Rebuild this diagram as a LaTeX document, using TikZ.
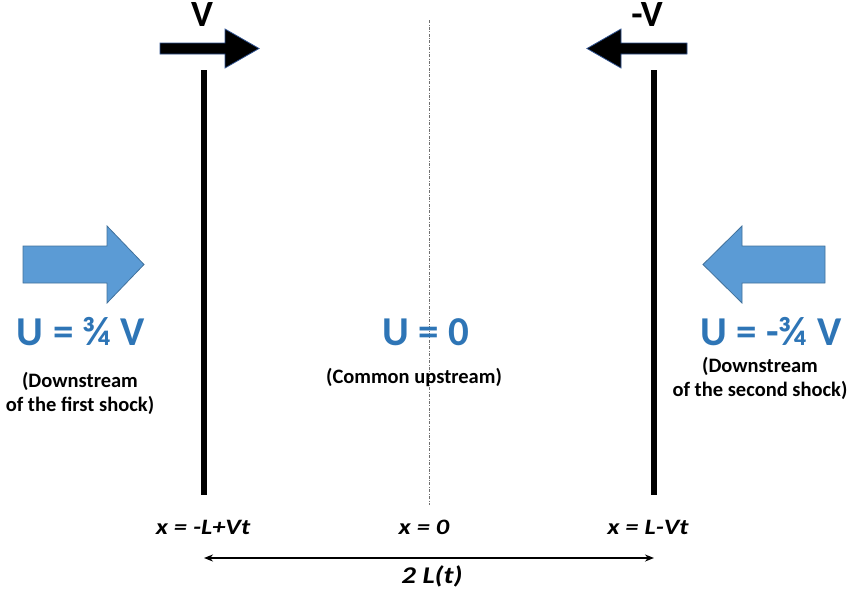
\documentclass[tikz,border=0pt]{standalone}
\usepackage{fontspec}
\setmainfont{Carlito}
\newfontfamily\poslabfont[FakeStretch=1.2]{Carlito}
\usepackage{tikz}
\usetikzlibrary{arrows.meta,positioning}
\definecolor{shkink}{HTML}{000000}
\definecolor{shkedge}{HTML}{2F528F}
\definecolor{flowfill}{HTML}{5B9BD5}
\definecolor{flowedge}{HTML}{41719C}
\definecolor{flowtxt}{HTML}{2E75B6}
\definecolor{midgray}{HTML}{707070}
\tikzset{
  shock/.style={line width=6pt,draw=shkink},
  midline/.style={draw=midgray,line width=0.8pt,dash pattern=on 3pt off 1.5pt on 0.8pt off 1.5pt},
  velarr/.style={fill=shkink,draw=shkedge,line width=0.8pt},
  flowarr/.style={fill=flowfill,draw=flowedge,line width=0.8pt},
  vlab/.style={font=\fontsize{37}{42}\selectfont\bfseries,text=shkink,anchor=base,inner sep=0pt},
  ulab/.style={font=\fontsize{41}{46}\selectfont\bfseries,text=flowtxt,anchor=base,inner sep=0pt},
  note/.style={font=\fontsize{20.5}{24}\selectfont\bfseries,align=center,text=shkink},
  xlab/.style={font=\poslabfont\fontsize{22}{26}\selectfont\bfseries\itshape,text=shkink,
               anchor=base,inner sep=0pt},
  dimarr/.style={{Stealth[length=9pt,width=7pt]}-{Stealth[length=9pt,width=7pt]},line width=1.6pt,draw=shkink},
}

\begin{document}
\begin{tikzpicture}[x=1pt,y=-1pt]
  \useasboundingbox (0,0) rectangle (852,597);

  % ---------- shock fronts and symmetry axis ----------
  \coordinate (s1top) at (204,70);
  \coordinate (s1bot) at (204,495);
  \coordinate (s2top) at (654,70);
  \coordinate (s2bot) at (654,495);
  \coordinate (axtop) at (429,20);
  \coordinate (axbot) at (429,505);
  \draw[midline] (axtop) -- (axbot);
  \draw[shock] (s1top) -- (s1bot);
  \draw[shock] (s2top) -- (s2bot);

  % ---------- shock velocities ----------
  \draw[velarr] (160,43) -- (225,43) -- (225,29) -- (259,48.5) -- (225,68)
    -- (225,54) -- (160,54) -- cycle;
  \draw[velarr] (687,43) -- (621,43) -- (621,29) -- (587,48.5) -- (621,68)
    -- (621,54) -- (687,54) -- cycle;
  \node[vlab] (v1) at (202,27) {V};
  \node[vlab] (v2) at (647,27) {-V};

  % ---------- flow arrows ----------
  \draw[flowarr] (23,246) -- (107,246) -- (107,226) -- (144,264.5) -- (107,303)
    -- (107,283) -- (23,283) -- cycle;
  \draw[flowarr] (825,246) -- (742,246) -- (742,226) -- (703,264.5) -- (742,303)
    -- (742,283) -- (825,283) -- cycle;

  % ---------- flow speeds ----------
  \node[ulab] (u1) at (81,345) {U = ¾ V};
  \node[ulab] (u0) at (426,345) {U = 0};
  \node[ulab] (u2) at (771,345) {U = -¾ V};
  \node[note] (n1) at (80,393) {(Downstream\\of the first shock)};
  \node[note] (n0) at (414,378) {(Common upstream)};
  \node[note] (n2) at (760,378) {(Downstream\\of the second shock)};

  % ---------- positions ----------
  \node[xlab] (x1) at (203,534) {x = -L+Vt};
  \node[xlab] (x0) at (424,534) {x = 0};
  \node[xlab] (x2) at (648,534) {x = L-Vt};
  \coordinate (dl) at (204,558);
  \coordinate (dr) at (654,558);
  \draw[dimarr] (dl) -- (dr);
  \node[xlab,font=\poslabfont\fontsize{24}{28}\selectfont\bfseries\itshape] (len) at (432,583) {2 L(t)};
\end{tikzpicture}
\end{document}
